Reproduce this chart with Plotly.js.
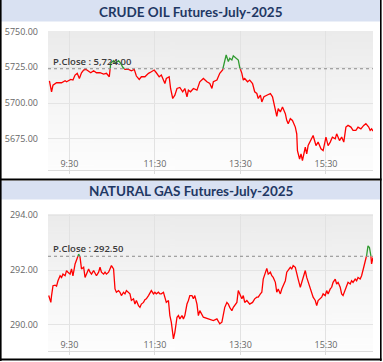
<!DOCTYPE html>
<html><head><meta charset="utf-8">
<script src="https://cdn.plot.ly/plotly-3.0.1.min.js"></script>
<style>html,body{margin:0;padding:0;background:#fff;}#chart{width:383px;height:362px;}</style>
</head><body><div id="chart"></div>
<script>
// ---- Data ----
const crudeTitle = "CRUDE OIL Futures-July-2025";
const gasTitle = "NATURAL GAS Futures-July-2025";
const crudePClose = 5724.00;
const gasPClose = 292.50;
const crudeYTicks = [5675, 5700, 5725, 5750];
const gasYTicks = [290, 292, 294];
const xTickLabels = ["9:30", "11:30", "13:30", "15:30"];

const crudeTime = ["09:02","09:05","09:07","09:12","09:19","09:24","09:26","09:32","09:35","09:38","09:41","09:44","09:47","09:50","09:53","09:57","10:00","10:04","10:08","10:13","10:18","10:22","10:26","10:28","10:32","10:35","10:39","10:42","10:45","10:48","10:53","10:57","11:01","11:04","11:08","11:11","11:16","11:21","11:25","11:29","11:32","11:36","11:39","11:42","11:44","11:46","11:50","11:52","11:55","11:58","12:01","12:05","12:09","12:12","12:15","12:17","12:20","12:24","12:29","12:33","12:38","12:43","12:47","12:50","12:52","12:57","13:01","13:05","13:07","13:10","13:13","13:15","13:18","13:20","13:24","13:27","13:29","13:32","13:34","13:36","13:40","13:43","13:47","13:50","13:53","13:55","13:58","14:00","14:03","14:07","14:12","14:15","14:19","14:21","14:23","14:26","14:29","14:33","14:35","14:37","14:40","14:43","14:47","14:49","14:50","14:53","14:55","14:57","15:01","15:03","15:05","15:09","15:12","15:16","15:19","15:23","15:26","15:30","15:33","15:36","15:39","15:43","15:45","15:49","15:52","15:55","15:58","16:01","16:05","16:08","16:12","16:15","16:19","16:23","16:26","16:30","16:32","16:34","16:36"];
const crudeValue = [5715.6,5707.9,5712.5,5714.2,5714.2,5715.6,5714.9,5716.5,5716.1,5719.6,5720.8,5717.2,5721.2,5723.1,5723.6,5721.9,5721.2,5722.6,5721.2,5721.2,5720.3,5720.8,5718.4,5727.8,5729.7,5727.8,5729.7,5727.8,5725.0,5723.6,5723.6,5722.6,5723.6,5718.9,5716.5,5718.4,5718.4,5720.8,5721.9,5723.1,5721.2,5718.4,5719.6,5716.1,5713.7,5717.2,5718.4,5710.2,5703.2,5705.5,5710.2,5710.9,5707.9,5710.2,5704.4,5709.0,5707.9,5710.2,5709.0,5714.9,5717.2,5714.9,5713.7,5710.2,5714.9,5716.1,5720.8,5723.1,5727.8,5733.7,5729.0,5731.3,5730.1,5733.0,5731.3,5730.1,5725.0,5720.8,5716.1,5717.2,5714.9,5716.1,5713.7,5707.9,5706.7,5703.2,5705.5,5700.8,5704.4,5705.5,5706.7,5704.4,5694.9,5690.7,5696.1,5693.8,5697.3,5692.6,5687.9,5685.6,5689.1,5687.9,5683.2,5678.5,5666.8,5660.9,5664.4,5659.8,5669.1,5664.4,5670.3,5673.8,5677.3,5670.3,5672.7,5668.0,5666.8,5676.2,5670.3,5672.7,5676.2,5675.0,5678.5,5673.8,5676.2,5672.7,5683.2,5684.4,5683.2,5680.9,5680.9,5683.2,5682.0,5684.4,5685.6,5683.2,5680.9,5682.0,5680.4];

const gasTime = ["09:01","09:04","09:05","09:07","09:10","09:12","09:14","09:17","09:19","09:21","09:24","09:26","09:28","09:31","09:33","09:35","09:38","09:40","09:43","09:45","09:47","09:50","09:52","09:54","09:57","09:59","10:01","10:04","10:06","10:08","10:11","10:13","10:15","10:18","10:20","10:22","10:25","10:27","10:29","10:32","10:34","10:36","10:39","10:41","10:43","10:46","10:48","10:50","10:53","10:55","10:57","11:00","11:02","11:04","11:07","11:09","11:11","11:14","11:16","11:18","11:21","11:23","11:25","11:28","11:30","11:32","11:35","11:37","11:39","11:42","11:44","11:46","11:49","11:51","11:53","11:56","11:58","12:01","12:03","12:05","12:08","12:10","12:12","12:15","12:17","12:19","12:22","12:24","12:26","12:29","12:31","12:33","12:38","12:43","12:47","12:52","12:57","13:01","13:04","13:06","13:08","13:11","13:13","13:15","13:18","13:20","13:22","13:25","13:27","13:29","13:32","13:34","13:36","13:39","13:43","13:47","13:50","13:53","13:55","13:58","14:00","14:02","14:05","14:07","14:09","14:12","14:14","14:16","14:19","14:21","14:23","14:26","14:28","14:30","14:33","14:35","14:37","14:40","14:42","14:44","14:47","14:49","14:51","14:54","14:56","14:58","15:01","15:03","15:05","15:08","15:10","15:12","15:15","15:17","15:19","15:22","15:24","15:26","15:29","15:31","15:33","15:36","15:38","15:40","15:43","15:45","15:47","15:50","15:52","15:54","15:57","15:59","16:01","16:04","16:06","16:08","16:11","16:13","16:15","16:18","16:20","16:23","16:25","16:27","16:29","16:31","16:33","16:34","16:36"];
const gasValue = [291.07,290.82,291.07,291.43,291.45,291.41,291.61,291.79,291.73,291.85,291.79,291.98,291.92,291.85,292.04,291.79,292.22,292.34,292.58,292.46,292.04,292.10,291.73,291.85,292.04,291.92,291.85,291.98,291.89,291.79,291.92,292.10,291.92,291.85,291.92,291.85,291.92,292.04,292.16,292.04,291.31,291.19,291.25,291.19,291.07,291.19,291.13,291.25,291.19,291.13,290.89,290.95,290.76,290.89,290.70,290.64,290.76,290.82,290.92,290.95,291.07,291.19,291.25,291.13,291.19,291.13,291.19,291.13,291.13,291.19,291.01,290.82,290.89,290.34,290.10,289.49,289.73,290.28,290.34,290.22,290.34,290.22,290.34,290.76,290.89,291.07,291.07,290.95,291.07,290.76,290.34,290.52,290.28,290.24,290.22,290.16,290.22,290.04,290.10,290.34,290.64,290.82,290.76,290.64,290.52,290.64,290.70,290.82,291.25,291.13,290.95,291.07,290.82,290.89,290.76,290.82,290.95,291.01,291.01,291.13,291.19,291.67,291.92,292.06,291.85,291.92,291.79,291.73,291.55,291.19,291.31,291.13,291.31,291.43,291.61,291.92,291.98,292.10,292.04,292.16,292.10,291.92,291.67,291.37,291.55,291.79,291.98,291.73,291.55,291.31,291.19,291.01,290.89,290.70,290.89,290.95,291.01,291.13,291.07,291.25,291.13,291.31,291.37,291.55,291.67,291.49,291.55,291.37,291.13,291.07,291.31,291.43,291.55,291.49,291.61,291.55,291.67,291.61,291.73,291.67,291.79,292.10,292.34,292.52,292.88,292.82,292.52,292.22,292.46];

// ---- helpers ----
const DATE = "2025-06-16 ";
function toMs(t){ const p = t.split(":").map(Number); return Date.UTC(2025,5,16,p[0],p[1]); }

function splitByLevel(times, vals, level){
  const xs = times.map(toMs);
  const red = {x:[], y:[]}, green = {x:[], y:[]};
  for (let i = 0; i < xs.length; i++){
    const above = vals[i] > level;
    const cur = above ? green : red;
    if (i > 0){
      const prevAbove = vals[i-1] > level;
      if (prevAbove !== above){
        const f = (level - vals[i-1]) / (vals[i] - vals[i-1]);
        const xc = xs[i-1] + f * (xs[i] - xs[i-1]);
        const prev = prevAbove ? green : red;
        prev.x.push(xc); prev.y.push(level);
        prev.x.push(null); prev.y.push(null);
        cur.x.push(xc); cur.y.push(level);
      }
    }
    cur.x.push(xs[i]); cur.y.push(vals[i]);
  }
  return {red, green};
}

const W = 383, H = 362;
const px = v => v / W;
const py = v => 1 - v / H;

const c = splitByLevel(crudeTime, crudeValue, crudePClose);
const g = splitByLevel(gasTime, gasValue, gasPClose);

const RED = "#ff0000", GREEN = "#2f9a2f";
const traces = [
  {x:c.red.x, y:c.red.y, xaxis:"x", yaxis:"y", mode:"lines", line:{color:RED, width:1.3}, hoverinfo:"skip"},
  {x:c.green.x, y:c.green.y, xaxis:"x", yaxis:"y", mode:"lines", line:{color:GREEN, width:1.3}, hoverinfo:"skip"},
  {x:g.red.x, y:g.red.y, xaxis:"x2", yaxis:"y2", mode:"lines", line:{color:RED, width:1.3}, hoverinfo:"skip"},
  {x:g.green.x, y:g.green.y, xaxis:"x2", yaxis:"y2", mode:"lines", line:{color:GREEN, width:1.3}, hoverinfo:"skip"}
];

// background gradient image
const cv = document.createElement("canvas"); cv.width = 4; cv.height = 200;
const ctx = cv.getContext("2d");
const grd = ctx.createLinearGradient(0,0,0,200);
grd.addColorStop(0, "#ebebeb"); grd.addColorStop(0.55, "#f6f6f6"); grd.addColorStop(1, "#fdfdfd");
ctx.fillStyle = grd; ctx.fillRect(0,0,4,200);
const bg = cv.toDataURL();

const tickFont = {family:"Open Sans, DejaVu Sans, sans-serif", size:9, color:"#666"};
const tickVals = xTickLabels.map(t => DATE + (t.length === 4 ? "0" + t : t));

function xaxis(){
  return {
    type:"date", domain:[px(48), px(373)], range:[DATE+"09:00", DATE+"16:36"],
    tickvals: tickVals, ticktext: xTickLabels,
    ticklabelposition:"inside", tickfont:tickFont,
    showgrid:true, gridcolor:"#e2e2e2", gridwidth:1,
    showline:true, linecolor:"#dcdcdc", linewidth:1,
    ticks:"outside", ticklen:3, tickcolor:"#dcdcdc",
    zeroline:false, automargin:false, fixedrange:true
  };
}
function yaxis(domain, range, ticks){
  return {
    domain: domain, range: range, tickvals: ticks,
    ticktext: ticks.map(v => v.toFixed(2)),
    tickfont: tickFont, ticklabelstandoff: 9,
    showgrid:true, gridcolor:"#e4e4e4", gridwidth:1,
    showline:false, ticks:"", zeroline:false, automargin:false, fixedrange:true
  };
}

const titleFont = {family:"Lato, Open Sans, sans-serif", size:13.5, color:"#1f3864", weight:700};
const BAND = "#d9e1f2";
const pcFont = {family:"Open Sans, sans-serif", size:9.5, color:"#3a3a3a", weight:600};

const layout = {
  width:W, height:H, margin:{l:0,r:0,t:0,b:0},
  paper_bgcolor:"#ffffff", plot_bgcolor:"rgba(0,0,0,0)", showlegend:false,
  xaxis: xaxis(), yaxis: Object.assign(yaxis([py(170), py(31)], [5653.2, 5750.4], crudeYTicks), {anchor:"x"}),
  xaxis2: Object.assign(xaxis(), {anchor:"y2"}), yaxis2: Object.assign(yaxis([py(351), py(214)], [289.05, 294.04], gasYTicks), {anchor:"x2"}),
  images: [
    {source:bg, xref:"paper", yref:"paper", x:px(48), y:py(31), sizex:px(373)-px(48), sizey:139/H, sizing:"stretch", xanchor:"left", yanchor:"top", layer:"below"},
    {source:bg, xref:"paper", yref:"paper", x:px(48), y:py(214), sizex:px(373)-px(48), sizey:137/H, sizing:"stretch", xanchor:"left", yanchor:"top", layer:"below"}
  ],
  shapes: [
    {type:"rect", xref:"paper", yref:"paper", x0:0, x1:px(381), y0:py(0), y1:py(21.5), fillcolor:BAND, line:{width:0}, layer:"below"},
    {type:"rect", xref:"paper", yref:"paper", x0:0, x1:px(381), y0:py(181), y1:py(199.5), fillcolor:BAND, line:{width:0}, layer:"below"},
    {type:"line", xref:"paper", yref:"paper", x0:px(0.8), x1:px(0.8), y0:py(0), y1:py(361), line:{color:"#000", width:1.6}},
    {type:"line", xref:"paper", yref:"paper", x0:px(380.8), x1:px(380.8), y0:py(0), y1:py(361), line:{color:"#000", width:1.6}},
    {type:"line", xref:"paper", yref:"paper", x0:0, x1:px(381.5), y0:py(179.5), y1:py(179.5), line:{color:"#000", width:1.8}},
    {type:"line", xref:"paper", yref:"paper", x0:0, x1:px(381.5), y0:py(359.5), y1:py(359.5), line:{color:"#000", width:1.8}},
    {type:"line", xref:"x domain", yref:"y", x0:0, x1:1, y0:crudePClose, y1:crudePClose, line:{color:"#8a8a8a", width:1, dash:"dot"}},
    {type:"line", xref:"x2 domain", yref:"y2", x0:0, x1:1, y0:gasPClose, y1:gasPClose, line:{color:"#8a8a8a", width:1, dash:"dot"}}
  ],
  annotations: [
    {text:crudeTitle, xref:"paper", yref:"paper", x:px(191), y:py(11.5), xanchor:"center", yanchor:"middle", showarrow:false, font:titleFont},
    {text:gasTitle, xref:"paper", yref:"paper", x:px(191), y:py(190.5), xanchor:"center", yanchor:"middle", showarrow:false, font:titleFont},
    {text:"P.Close : " + crudePClose.toLocaleString("en-US",{minimumFractionDigits:2}), xref:"paper", yref:"y", x:px(51), y:crudePClose, xanchor:"left", yanchor:"bottom", yshift:-1, showarrow:false, font:pcFont},
    {text:"P.Close : " + gasPClose.toFixed(2), xref:"paper", yref:"y2", x:px(51), y:gasPClose, xanchor:"left", yanchor:"bottom", yshift:-1, showarrow:false, font:pcFont}
  ]
};

Plotly.newPlot("chart", traces, layout, {staticPlot:true, displayModeBar:false});
</script>
</body></html>
